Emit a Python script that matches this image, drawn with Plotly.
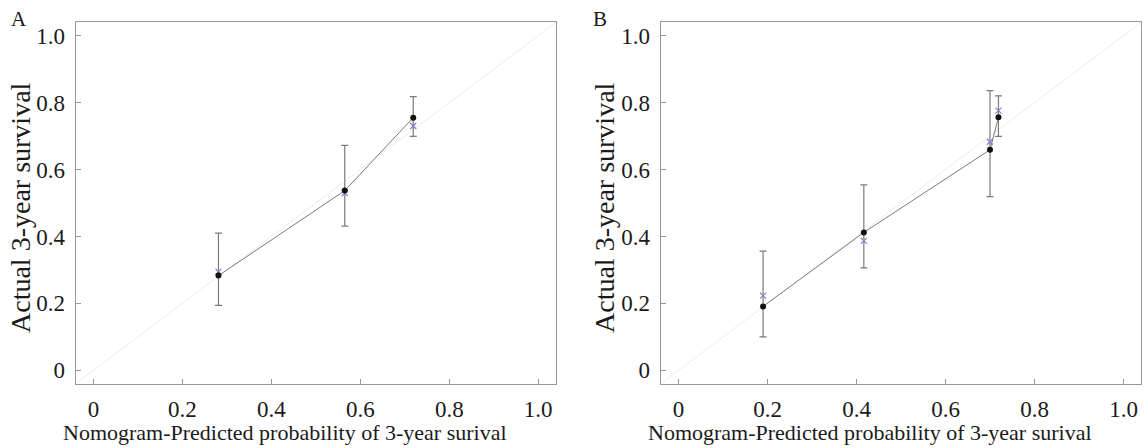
import plotly.graph_objects as go

# Panel A data
a_pred = [0.281, 0.565, 0.719]
a_obs = [0.283, 0.537, 0.755]
a_corr = [0.295, 0.530, 0.730]
a_upper = [0.410, 0.672, 0.818]
a_lower = [0.194, 0.431, 0.699]

# Panel B data
b_pred = [0.190, 0.4165, 0.700, 0.719]
b_obs = [0.191, 0.412, 0.659, 0.756]
b_corr = [0.223, 0.387, 0.683, 0.776]
b_upper = [0.356, 0.554, 0.836, 0.820]
b_lower = [0.100, 0.306, 0.519, 0.699]

tick_vals = [0, 0.2, 0.4, 0.6, 0.8, 1.0]
tick_text = ["0", "0.2", "0.4", "0.6", "0.8", "1.0"]
x_title = "Nomogram-Predicted probability of 3-year surival"
y_title = "Actual 3-year survival"
panel_labels = ["A", "B"]

W, H = 1148, 448
FONT = "Liberation Serif, Times New Roman, serif"

fig = go.Figure()

def add_panel(pred, obs, corr, upper, lower, xa, ya):
    plus = [u - o for u, o in zip(upper, obs)]
    minus = [o - l for o, l in zip(obs, lower)]
    fig.add_trace(go.Scatter(
        x=pred, y=obs, mode="markers",
        marker=dict(size=0.1, color="rgba(0,0,0,0)"),
        error_y=dict(type="data", array=plus, arrayminus=minus,
                     color="#7a7a7a", thickness=1.2, width=3.5),
        xaxis=xa, yaxis=ya, showlegend=False, hoverinfo="skip"))
    fig.add_trace(go.Scatter(
        x=pred, y=obs, mode="lines",
        line=dict(color="#7a7a7a", width=1),
        xaxis=xa, yaxis=ya, showlegend=False))
    fig.add_trace(go.Scatter(
        x=pred, y=corr, mode="markers",
        marker=dict(symbol="x-thin", size=6, line=dict(color="#7f7fc4", width=1.2)),
        xaxis=xa, yaxis=ya, showlegend=False))
    fig.add_trace(go.Scatter(
        x=pred, y=obs, mode="markers",
        marker=dict(symbol="circle", size=6, color="#111111"),
        xaxis=xa, yaxis=ya, showlegend=False))

add_panel(a_pred, a_obs, a_corr, a_upper, a_lower, "x", "y")
add_panel(b_pred, b_obs, b_corr, b_upper, b_lower, "x2", "y2")

ytop = 1 - 22.3 / H
ybot = 1 - 383.7 / H
axis_common = dict(
    range=[-0.04, 1.04], tickvals=tick_vals, ticktext=tick_text,
    showline=True, linecolor="#999999", linewidth=1, mirror=True,
    ticks="inside", ticklen=5, tickcolor="#999999", tickwidth=1,
    showgrid=False, zeroline=False,
    tickfont=dict(family=FONT, size=23, color="#1a1a1a"),
    ticklabelstandoff=5,
)
fig.update_layout(
    width=W, height=H,
    margin=dict(l=0, r=0, t=0, b=0),
    paper_bgcolor="white", plot_bgcolor="white",
    xaxis=dict(domain=[75.7 / W, 556 / W], anchor="y", **axis_common),
    yaxis=dict(domain=[ybot, ytop], anchor="x", **axis_common),
    xaxis2=dict(domain=[660.7 / W, 1141.3 / W], anchor="y2", **axis_common),
    yaxis2=dict(domain=[ybot, ytop], anchor="x2", **axis_common),
)

for xr, yr in (("x domain", "y domain"), ("x2 domain", "y2 domain")):
    fig.add_shape(type="line", xref=xr, yref=yr, x0=0, y0=0, x1=1, y1=1,
                  line=dict(color="#ececec", width=1), layer="below")

ann = []
for label, px in zip(panel_labels, (19, 600)):
    ann.append(dict(text=label, x=px / W, y=1 - 19 / H, xref="paper", yref="paper",
                    showarrow=False, xanchor="center", yanchor="middle",
                    font=dict(family=FONT, size=21, color="#1a1a1a")))
for cx in (285, 870):
    ann.append(dict(text=x_title, x=cx / W, y=1 - 432 / H, xref="paper", yref="paper",
                    showarrow=False, xanchor="center", yanchor="middle",
                    font=dict(family=FONT, size=22, color="#1a1a1a")))
for cx in (20, 604):
    ann.append(dict(text=y_title, x=cx / W, y=1 - 208 / H, xref="paper", yref="paper",
                    showarrow=False, xanchor="center", yanchor="middle", textangle=-90,
                    font=dict(family=FONT, size=28, color="#1a1a1a")))
fig.update_layout(annotations=ann)

fig.write_html("out.html")
